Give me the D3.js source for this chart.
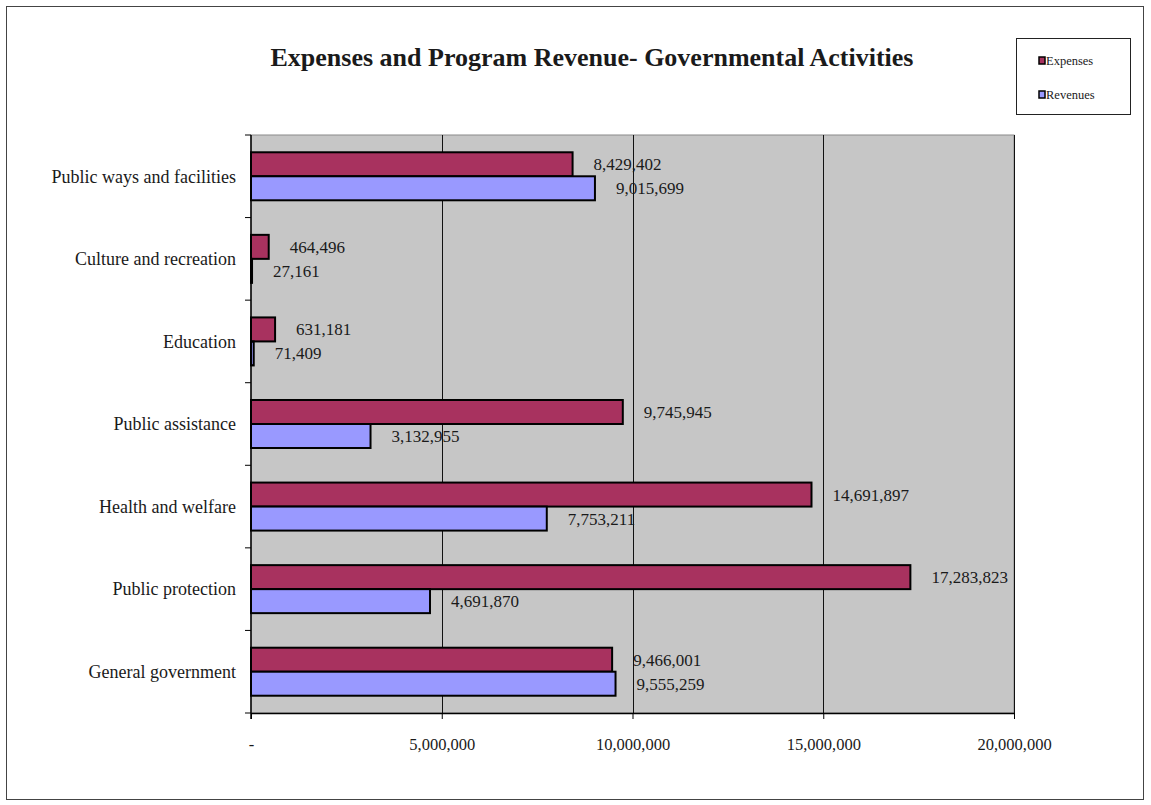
<!DOCTYPE html>
<html>
<head>
<meta charset="utf-8">
<script src="https://cdn.jsdelivr.net/npm/d3@7"></script>
<style>
  html, body { margin: 0; padding: 0; background: #ffffff; }
  svg { display: block; }
  text { font-family: "Liberation Serif", "DejaVu Serif", serif; fill: #1a1a1a; }
</style>
</head>
<body>
<svg id="chart" width="1151" height="805"></svg>
<script>
// Governmental activities: expenses vs. program revenue by function
const categories = [
  "Public ways and facilities",
  "Culture and recreation",
  "Education",
  "Public assistance",
  "Health and welfare",
  "Public protection",
  "General government"
];
const expenses = [8429402, 464496, 631181, 9745945, 14691897, 17283823, 9466001];
const revenues = [9015699, 27161, 71409, 3132955, 7753211, 4691870, 9555259];
const seriesNames = ["Expenses", "Revenues"];
const xTicks = [0, 5000000, 10000000, 15000000, 20000000];
const xTickLabels = ["-", "5,000,000", "10,000,000", "15,000,000", "20,000,000"];
const titleText = "Expenses and Program Revenue- Governmental Activities";

const colors = { Expenses: "#a8325f", Revenues: "#9999ff" };

const svg = d3.select("#chart");
const plot = { left: 251, right: 1014, top: 135, bottom: 713 };

// outer chart frame
svg.append("rect")
  .attr("x", 6.5).attr("y", 6.5)
  .attr("width", 1137).attr("height", 793)
  .attr("fill", "#ffffff")
  .attr("stroke", "#444").attr("stroke-width", 1);

// title
svg.append("text")
  .attr("x", 592).attr("y", 66)
  .attr("text-anchor", "middle")
  .style("font-size", "26px")
  .style("font-weight", "bold")
  .text(titleText);

// scales
const x = d3.scaleLinear().domain([0, 20000000]).range([plot.left, plot.right]);
const y0 = d3.scaleBand().domain(categories).range([plot.top, plot.bottom]).paddingInner(0).paddingOuter(0);
const y1 = d3.scaleBand().domain(seriesNames).range([0, y0.bandwidth()]).paddingInner(0).paddingOuter(0.72);

// plot area background
svg.append("rect")
  .attr("x", plot.left).attr("y", plot.top)
  .attr("width", plot.right - plot.left).attr("height", plot.bottom - plot.top)
  .attr("fill", "#c6c6c6")
  .attr("stroke", "#8a8a8a").attr("stroke-width", 1);

// vertical gridlines
svg.append("g")
  .selectAll("line")
  .data(xTicks.slice(1))
  .join("line")
  .attr("x1", d => Math.round(x(d)) + 0.5).attr("x2", d => Math.round(x(d)) + 0.5)
  .attr("y1", plot.top).attr("y2", plot.bottom)
  .attr("stroke", "#111").attr("stroke-width", 1);

// bars
const rows = categories.map((c, i) => ({ cat: c, values: [
  { key: "Expenses", value: expenses[i] },
  { key: "Revenues", value: revenues[i] }
]}));

const groups = svg.append("g").selectAll("g")
  .data(rows)
  .join("g")
  .attr("transform", d => `translate(0,${y0(d.cat)})`);

groups.selectAll("rect")
  .data(d => d.values)
  .join("rect")
  .attr("x", x(0))
  .attr("y", d => y1(d.key))
  .attr("width", d => Math.max(0.5, x(d.value) - x(0)))
  .attr("height", y1.bandwidth())
  .attr("fill", d => colors[d.key])
  .attr("stroke", "#000")
  .attr("stroke-width", 2);

// value labels
const fmt = d3.format(",");
groups.selectAll("text")
  .data(d => d.values)
  .join("text")
  .attr("x", d => x(d.value) + 21)
  .attr("y", d => y1(d.key) + y1.bandwidth() / 2)
  .attr("dy", "0.35em")
  .style("font-size", "17px")
  .text(d => fmt(d.value));

// x axis
const xAxis = d3.axisBottom(x)
  .tickValues(xTicks)
  .tickFormat((d, i) => xTickLabels[i])
  .tickSize(6)
  .tickSizeOuter(0);
const gx = svg.append("g")
  .attr("transform", `translate(0,${plot.bottom})`)
  .call(xAxis);
gx.select(".domain").attr("stroke", "#000").attr("stroke-width", 1.5);
gx.selectAll(".tick line").attr("stroke", "#000");
gx.selectAll(".tick text")
  .attr("y", 25)
  .style("font-size", "16.5px")
  .style("font-family", "Liberation Serif, serif")
  .attr("fill", "#1a1a1a");

// y axis: labels centred in bands, ticks on band boundaries
const gy = svg.append("g").attr("transform", `translate(${plot.left},0)`);
gy.append("line")
  .attr("x1", 0).attr("x2", 0)
  .attr("y1", plot.top).attr("y2", plot.bottom + 6)
  .attr("stroke", "#000").attr("stroke-width", 1.5);
const boundaries = categories.map(c => y0(c)).concat([plot.bottom]);
gy.selectAll("line.tick")
  .data(boundaries)
  .join("line")
  .attr("class", "tick")
  .attr("x1", -6).attr("x2", 0)
  .attr("y1", d => d).attr("y2", d => d)
  .attr("stroke", "#000");
gy.selectAll("text")
  .data(categories)
  .join("text")
  .attr("x", -15)
  .attr("y", d => y0(d) + y0.bandwidth() / 2)
  .attr("dy", "0.35em")
  .attr("text-anchor", "end")
  .style("font-size", "18px")
  .text(d => d);

// legend
const lg = svg.append("g");
lg.append("rect")
  .attr("x", 1016.5).attr("y", 38.5)
  .attr("width", 114).attr("height", 76)
  .attr("fill", "#fff")
  .attr("stroke", "#222").attr("stroke-width", 1);
const legendItems = lg.selectAll("g")
  .data(seriesNames)
  .join("g")
  .attr("transform", (d, i) => `translate(1039,${61 + i * 34})`);
legendItems.append("rect")
  .attr("x", 0).attr("y", -4)
  .attr("width", 6).attr("height", 7)
  .attr("fill", d => colors[d])
  .attr("stroke", "#000").attr("stroke-width", 1.5);
legendItems.append("text")
  .attr("x", 7).attr("y", 0)
  .attr("dy", "0.35em")
  .style("font-size", "12.5px")
  .text(d => d);
</script>
</body>
</html>
